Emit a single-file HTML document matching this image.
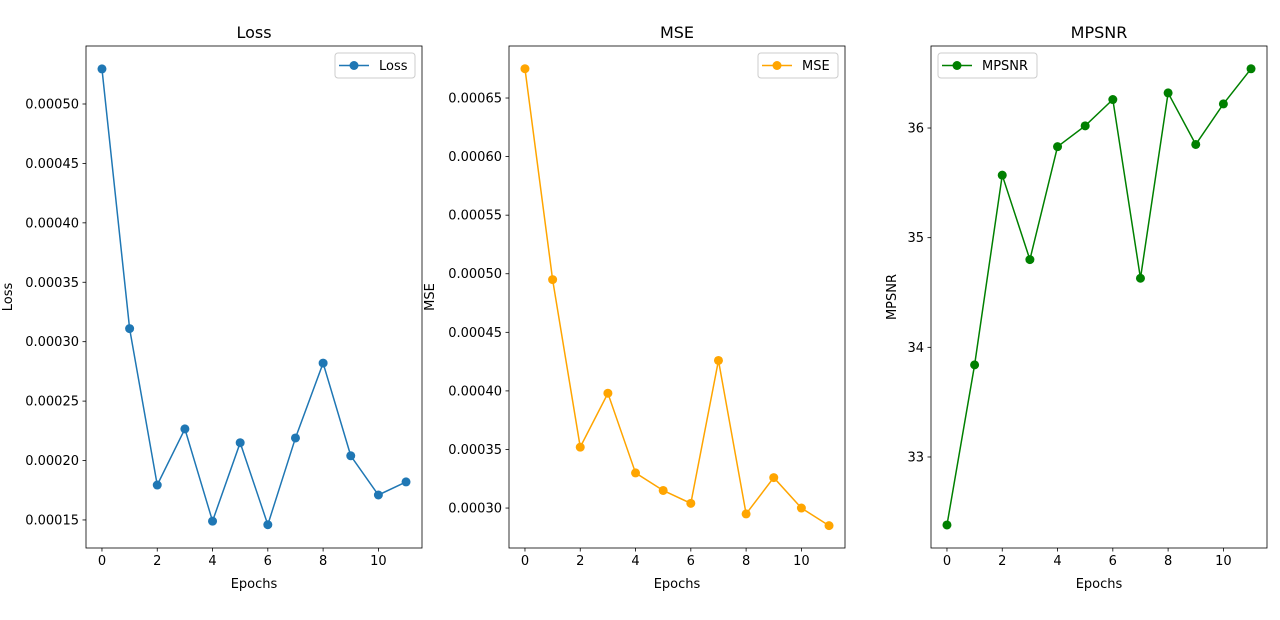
<!DOCTYPE html>
<html><head><meta charset="utf-8"><style>
html,body{margin:0;padding:0;background:#fff;}
svg{display:block;font-family:"DejaVu Sans","Liberation Sans",sans-serif;}
</style></head><body>
<svg id="fig" width="1280" height="620" xmlns="http://www.w3.org/2000/svg"></svg>
<script>
const epochs=[0,1,2,3,4,5,6,7,8,9,10,11];
const lossValues=[0.0005295,0.000311,0.0001794,0.0002266,0.000149,0.000215,0.000146,0.000219,0.000282,0.000204,0.000171,0.000182];
const mseValues=[0.000675,0.000495,0.000352,0.000398,0.00033,0.000315,0.000304,0.000426,0.000295,0.000326,0.0003,0.000285];
const mpsnrValues=[32.38,33.84,35.57,34.80,35.83,36.02,36.26,34.63,36.32,35.85,36.22,36.54];
const xTicks=[0,2,4,6,8,10];
const lossTicks=[0.00015,0.0002,0.00025,0.0003,0.00035,0.0004,0.00045,0.0005];
const lossTickLabels=["0.00015","0.00020","0.00025","0.00030","0.00035","0.00040","0.00045","0.00050"];
const mseTicks=[0.0003,0.00035,0.0004,0.00045,0.0005,0.00055,0.0006,0.00065];
const mseTickLabels=["0.00030","0.00035","0.00040","0.00045","0.00050","0.00055","0.00060","0.00065"];
const mpsnrTicks=[33,34,35,36];
const mpsnrTickLabels=["33","34","35","36"];

const NS="http://www.w3.org/2000/svg";
const svg=document.getElementById('fig');
function mk(tag,attrs,parent){const e=document.createElementNS(NS,tag);for(const k in attrs)e.setAttribute(k,attrs[k]);(parent||svg).appendChild(e);return e;}

function panel(cfg){
  const L=cfg.left,R=cfg.left+336,T=46,B=548;
  const g=mk('g',{});
  
  
  const xs=v=>L+(v-(-0.5775))/(12.155)*(R-L);
  const ys=v=>B-(v-cfg.ymin)/(cfg.ymax-cfg.ymin)*(B-T);
  // ticks x
  xTicks.forEach(t=>{
    const x=xs(t);
    const l=mk('line',{x1:x,x2:x,y1:B,y2:B+3.5,stroke:'#000','stroke-width':0.8},g);
    
    const tx=mk('text',{x:x,y:B+17,'font-size':13,'text-anchor':'middle',fill:'#000'},g);
    
    tx.textContent=t;
  });
  cfg.ticks.forEach((t,i)=>{
    const y=ys(t);
    const l=mk('line',{x1:L-3.5,x2:L,y1:y,y2:y,stroke:'#000','stroke-width':0.8},g);
    
    const tx=mk('text',{x:L-7,y:y+4.5,'font-size':13,'text-anchor':'end',fill:'#000'},g);
    
    tx.textContent=cfg.labels[i];
  });
  // line
  const pts=epochs.map((e,i)=>xs(e)+','+ys(cfg.values[i])).join(' ');
  const pl=mk('polyline',{points:pts,fill:'none',stroke:cfg.color,'stroke-width':1.5},g);
  
  epochs.forEach((e,i)=>{
    const c=mk('circle',{cx:xs(e),cy:ys(cfg.values[i]),r:4.5,fill:cfg.color},g);
    
  });
  const fr=mk('rect',{x:L,y:T,width:R-L,height:B-T,fill:'none',stroke:'#000','stroke-width':0.8},g);
  
  const ti=mk('text',{x:(L+R)/2,y:T-8,'font-size':16,'text-anchor':'middle',fill:'#000'},g);
  
  ti.textContent=cfg.title;
  const xl=mk('text',{x:(L+R)/2,y:588,'font-size':13,'text-anchor':'middle',fill:'#000'},g);
  
  xl.textContent='Epochs';
  const yl=mk('text',{x:0,y:0,'font-size':13,'text-anchor':'middle',fill:'#000',transform:`translate(${cfg.ylabelX},${(T+B)/2}) rotate(-90)`},g);
  
  yl.textContent=cfg.title;
  // legend
  const lx=cfg.legendX,lw=cfg.legendW;
  const lg=mk('g',{},g);
  
  mk('rect',{x:lx,y:53,width:lw,height:25,rx:3,fill:'#fff','fill-opacity':0.8,stroke:'#ccc','stroke-width':1},lg);
  mk('line',{x1:lx+4,x2:lx+34,y1:65.5,y2:65.5,stroke:cfg.color,'stroke-width':1.5},lg);
  mk('circle',{cx:lx+19,cy:65.5,r:4.5,fill:cfg.color},lg);
  const lt=mk('text',{x:lx+44,y:70,'font-size':13,fill:'#000'},lg);
  
  lt.textContent=cfg.title;
}
panel({name:'loss',title:'Loss',left:86,ymin:0.0001264,ymax:0.0005488,values:lossValues,ticks:lossTicks,labels:lossTickLabels,color:'#1f77b4',ylabelX:12,legendX:335,legendW:80});
panel({name:'mse',title:'MSE',left:509,ymin:0.0002659,ymax:0.0006944,values:mseValues,ticks:mseTicks,labels:mseTickLabels,color:'#ffa500',ylabelX:434,legendX:758,legendW:80});
panel({name:'mpsnr',title:'MPSNR',left:931,ymin:32.170,ymax:36.748,values:mpsnrValues,ticks:mpsnrTicks,labels:mpsnrTickLabels,color:'#008000',ylabelX:896,legendX:938,legendW:99});
</script>
</body></html>
